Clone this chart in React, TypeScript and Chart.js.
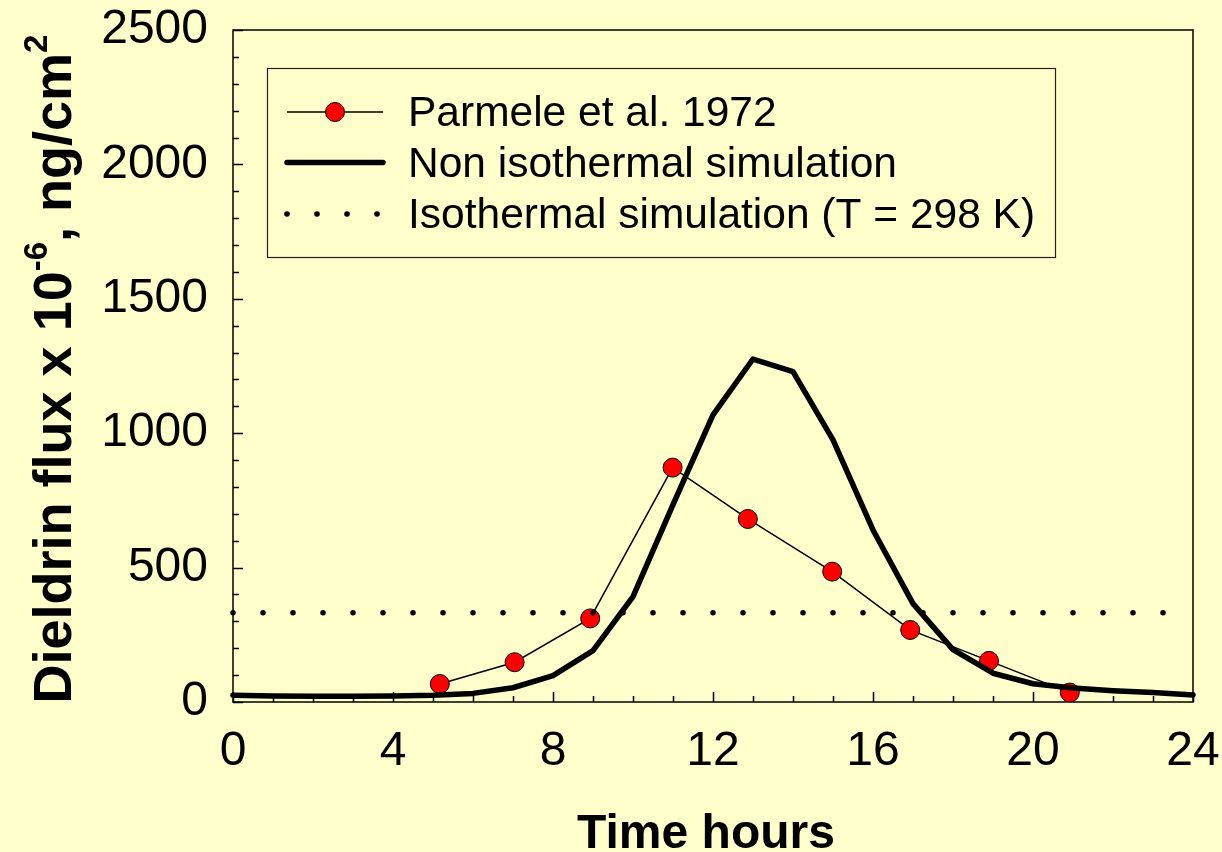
import React, { useEffect, useRef } from "react";
import { Chart, registerables } from "chart.js";

Chart.register(...registerables);

// Time axis (hours) and simulated flux for the non-isothermal model
const hours = [0, 1, 2, 3, 4, 5, 6, 7, 8, 9, 10, 11, 12, 13, 14, 15, 16, 17, 18, 19, 20, 21, 22, 23, 24];
const nonIsothermalFlux = [25, 22, 21, 21, 22, 25, 32, 53, 98, 191, 392, 734, 1068, 1276, 1229, 975, 640, 366, 195, 107, 68, 52, 42, 35, 26];

// Field measurements (Parmele et al. 1972)
const parmeleHours = [5.17, 7.04, 8.93, 10.99, 12.87, 14.98, 16.93, 18.9, 20.92];
const parmeleFlux = [67, 148, 311, 872, 681, 485, 268, 153, 35];

// Isothermal simulation at T = 298 K: constant flux over the day
const isothermalHours = [0, 24];
const isothermalFlux = [332, 332];

const xTickValues = [0, 4, 8, 12, 16, 20, 24];
const yTickValues = [0, 500, 1000, 1500, 2000, 2500];

const legendLabels = ["Parmele et al. 1972", "Non isothermal simulation", "Isothermal simulation (T = 298 K)"];
const xTitle = "Time hours";

const FONT = '"Liberation Sans", Arial, Helvetica, sans-serif';
const BG = "#ffffcc";
const RED = "#ff0000";

const noPadding = (s: any) => {
  s.paddingLeft = 0;
  s.paddingRight = 0;
  s.paddingTop = 0;
  s.paddingBottom = 0;
};

const decorations = {
  id: "decorations",
  beforeDatasetsDraw(chart: any) {
    const { ctx, chartArea: a, scales } = chart;
    const x = scales.x;
    const y = scales.y;
    ctx.save();
    ctx.strokeStyle = "#000";
    ctx.lineWidth = 1.5;
    ctx.strokeRect(a.left, a.top, a.right - a.left, a.bottom - a.top);
    ctx.beginPath();
    for (let h = 0; h <= 24; h += 1) {
      const px = Math.round(x.getPixelForValue(h)) + 0.5;
      const len = h % 4 === 0 ? 10 : 6;
      ctx.moveTo(px, a.bottom);
      ctx.lineTo(px, a.bottom - len);
    }
    for (let v = 0; v <= 2500; v += 100) {
      const py = Math.round(y.getPixelForValue(v)) + 0.5;
      const len = v % 500 === 0 ? 10 : 6;
      ctx.moveTo(a.left, py);
      ctx.lineTo(a.left + len, py);
    }
    ctx.stroke();
    ctx.restore();
  },
  afterDraw(chart: any) {
    const { ctx, chartArea: a } = chart;
    ctx.save();

    // Legend box
    const lx = 267, ly = 68, lw = 788, lh = 189;
    ctx.fillStyle = BG;
    ctx.fillRect(lx, ly, lw, lh);
    ctx.strokeStyle = "#222";
    ctx.lineWidth = 1.2;
    ctx.strokeRect(lx + 0.5, ly + 0.5, lw, lh);

    const rows = [112, 162.5, 214];
    // Parmele sample: thin line + red marker
    ctx.strokeStyle = "#000";
    ctx.lineWidth = 1.5;
    ctx.beginPath();
    ctx.moveTo(287, rows[0]);
    ctx.lineTo(383, rows[0]);
    ctx.stroke();
    ctx.beginPath();
    ctx.arc(335, rows[0], 9.5, 0, Math.PI * 2);
    ctx.fillStyle = RED;
    ctx.fill();
    ctx.lineWidth = 1;
    ctx.stroke();
    // Non isothermal sample: thick line
    ctx.lineWidth = 5.5;
    ctx.lineCap = "round";
    ctx.beginPath();
    ctx.moveTo(287, rows[1]);
    ctx.lineTo(383, rows[1]);
    ctx.stroke();
    // Isothermal sample: dots
    ctx.fillStyle = "#000";
    [287, 317, 347, 377].forEach((dx) => {
      ctx.beginPath();
      ctx.arc(dx, rows[2], 2.8, 0, Math.PI * 2);
      ctx.fill();
    });
    ctx.font = `42.5px ${FONT}`;
    ctx.textBaseline = "alphabetic";
    ctx.textAlign = "left";
    legendLabels.forEach((t, i) => ctx.fillText(t, 408, rows[i] + 14));

    // X axis title
    ctx.font = `bold 48px ${FONT}`;
    ctx.textAlign = "center";
    ctx.fillText(xTitle, (a.left + a.right) / 2 - 7, 848);

    // Y axis title with superscripts
    const size = 54;
    const supSize = Math.round(size * 0.62);
    const parts = [
      { t: "Dieldrin flux x 10", sup: false },
      { t: "-6", sup: true },
      { t: ", ng/cm", sup: false },
      { t: "2", sup: true },
    ];
    let total = 0;
    const widths = parts.map((p) => {
      ctx.font = `bold ${p.sup ? supSize : size}px ${FONT}`;
      const w = ctx.measureText(p.t).width;
      total += w;
      return w;
    });
    ctx.translate(71, 369);
    ctx.rotate(-Math.PI / 2);
    ctx.textAlign = "left";
    let cx = -total / 2;
    parts.forEach((p, i) => {
      ctx.font = `bold ${p.sup ? supSize : size}px ${FONT}`;
      ctx.fillText(p.t, cx, p.sup ? -size * 0.45 : 0);
      cx += widths[i];
    });
    ctx.restore();
  },
};

export default function App() {
  const canvasRef = useRef<HTMLCanvasElement | null>(null);

  useEffect(() => {
    const canvas = canvasRef.current;
    if (!canvas) return;
    const chart = new Chart(canvas, {
      type: "line",
      data: {
        datasets: [
          {
            label: legendLabels[0],
            data: parmeleHours.map((h, i) => ({ x: h, y: parmeleFlux[i] })),
            borderColor: "#000",
            borderWidth: 1.5,
            pointRadius: 9.5,
            pointBackgroundColor: RED,
            pointBorderColor: "#000",
            pointBorderWidth: 1,
            tension: 0,
            order: 2,
          },
          {
            label: legendLabels[1],
            data: hours.map((h, i) => ({ x: h, y: nonIsothermalFlux[i] })),
            borderColor: "#000",
            borderWidth: 5.5,
            pointRadius: 0,
            borderCapStyle: "round",
            borderJoinStyle: "round",
            tension: 0,
            clip: false,
            order: 0,
          },
          {
            label: legendLabels[2],
            data: isothermalHours.map((h, i) => ({ x: h, y: isothermalFlux[i] })),
            borderColor: "#000",
            borderWidth: 5.5,
            borderDash: [0, 30],
            borderCapStyle: "round",
            pointRadius: 0,
            clip: false,
            order: 1,
          },
        ],
      },
      options: {
        responsive: false,
        animation: false,
        devicePixelRatio: 1,
        layout: { padding: { left: 0, top: 30, right: 29, bottom: 0 } },
        plugins: { legend: { display: false }, tooltip: { enabled: false } },
        scales: {
          x: {
            type: "linear",
            min: 0,
            max: 24,
            afterFit: (s: any) => {
              s.height = 150;
              noPadding(s);
            },
            afterBuildTicks: (s: any) => {
              s.ticks = xTickValues.map((v) => ({ value: v }));
            },
            grid: { display: false, drawTicks: false },
            border: { display: false },
            ticks: {
              font: { family: FONT, size: 48 },
              color: "#000",
              padding: 21,
              maxRotation: 0,
              callback: (v: any) => String(v),
            },
          },
          y: {
            type: "linear",
            min: 0,
            max: 2500,
            afterFit: (s: any) => {
              s.width = 233;
              noPadding(s);
            },
            afterBuildTicks: (s: any) => {
              s.ticks = yTickValues.map((v) => ({ value: v }));
            },
            grid: { display: false, drawTicks: false },
            border: { display: false },
            ticks: {
              font: { family: FONT, size: 48 },
              color: "#000",
              padding: 25,
              callback: (v: any) => String(v),
            },
          },
        },
      },
      plugins: [decorations],
    });
    return () => chart.destroy();
  }, []);

  return (
    <div style={{ position: "fixed", left: 0, top: 0, width: 1222, height: 852, background: BG }}>
      <canvas ref={canvasRef} width={1222} height={852} style={{ display: "block" }} />
    </div>
  );
}
